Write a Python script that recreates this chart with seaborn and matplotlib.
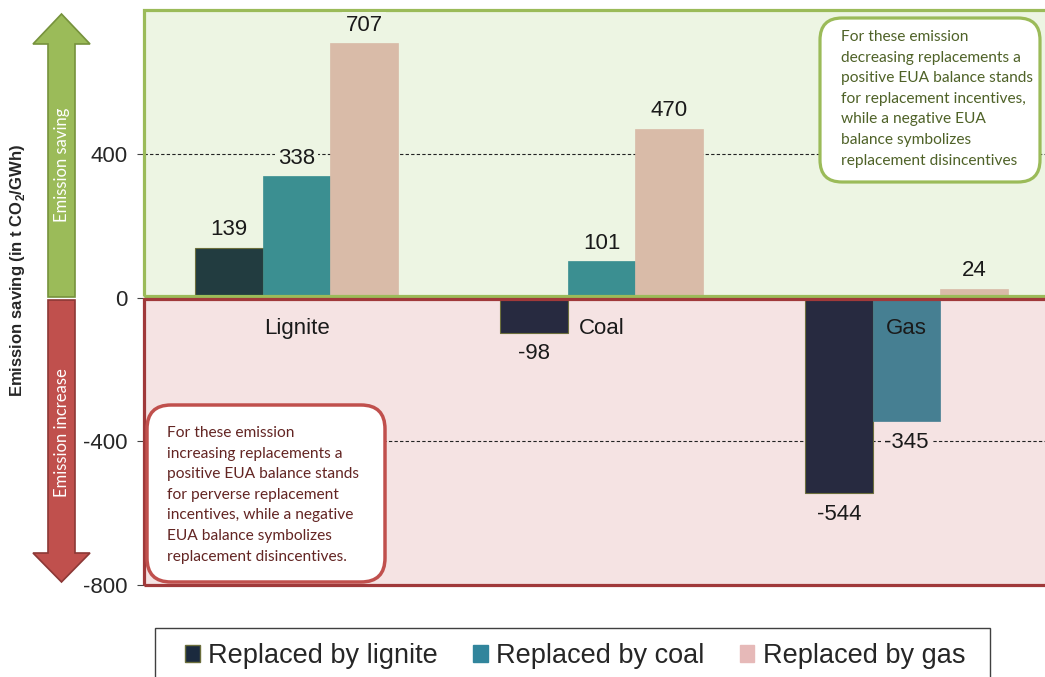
import numpy as np
import pandas as pd
import matplotlib
matplotlib.use("Agg")
import matplotlib.pyplot as plt
import seaborn as sns
from matplotlib.patches import Rectangle, FancyBboxPatch, Polygon, Patch
from matplotlib.transforms import IdentityTransform


# ----------------------------
# Data
# ----------------------------
fuels = ["Lignite", "Coal", "Gas"]
series = ["Replaced by lignite", "Replaced by coal", "Replaced by gas"]
replaced_by_lignite = [139, -98, -544]
replaced_by_coal = [338, 101, -345]
replaced_by_gas = [707, 470, 24]
y_ticks = [-800, -400, 0, 400]

note_saving = ("For these emission\ndecreasing replacements a\npositive EUA balance stands\n"
               "for replacement incentives,\nwhile a negative EUA\nbalance symbolizes\n"
               "replacement disincentives")
note_increase = ("For these emission\nincreasing replacements a\npositive EUA balance stands\n"
                 "for perverse replacement\nincentives, while a negative\nEUA balance symbolizes\n"
                 "replacement disincentives.")

# colours: legend swatch, bar on green (saving) area, bar on pink (increase) area
legend_colors = ["#1b2a3e", "#31859c", "#e6b9b8"]
pos_colors = ["#223c40", "#3b8f91", "#d9bba8"]
neg_colors = ["#272a40", "#467f92", "#d9bba8"]
green_bg, pink_bg = "#edf5e3", "#f5e3e3"

W, H = 1045, 677

sns.set_style("white")
plt.rcParams["font.family"] = ["Liberation Sans", "DejaVu Sans"]
plt.rcParams["mathtext.fontset"] = "custom"
plt.rcParams["mathtext.rm"] = "Liberation Sans"
plt.rcParams["mathtext.bf"] = "Liberation Sans:bold"

df = pd.DataFrame({
    "fuel": fuels * 3,
    "series": np.repeat(series, 3),
    "value": replaced_by_lignite + replaced_by_coal + replaced_by_gas,
})

fig = plt.figure(figsize=(W / 100, H / 100), dpi=100)
# the plot area runs past the right edge of the picture
ax = fig.add_axes([144 / W, 1 - 585 / H, 915 / W, 575 / H])

# ----------------------------
# Background areas
# ----------------------------
ax.axhspan(0, 800, color=green_bg, zorder=0, lw=0)
ax.axhspan(-800, 0, color=pink_bg, zorder=0, lw=0)
ax.add_patch(Rectangle((-0.5, 5), 4, 795, fill=False, edgecolor="#9bbb59",
                       lw=2.3, zorder=3.5, clip_on=False))
ax.add_patch(Rectangle((-0.5, -800), 4, 795, fill=False, edgecolor="#a0393a",
                       lw=2.3, zorder=3.5, clip_on=False))

for y in [400, -400]:
    ax.axhline(y, color="#222222", lw=0.8, ls=(0, (3, 2)), zorder=1)

# ----------------------------
# Bars
# ----------------------------
sns.barplot(data=df, x="fuel", y="value", hue="series", order=fuels, hue_order=series,
            palette=legend_colors, width=0.664, gap=0, saturation=1, legend=False,
            ax=ax, zorder=3)

for i, cont in enumerate(ax.containers):
    for bar in cont:
        v = bar.get_height()
        fc = pos_colors[i] if v > 0 else neg_colors[i]
        bar.set_facecolor(fc)
        if i == 0:
            bar.set_edgecolor("#6b6e3c")
            bar.set_linewidth(0.8)
        else:
            bar.set_edgecolor(fc)
            bar.set_linewidth(0.5)
        ax.annotate(f"{int(round(v))}", xy=(bar.get_x() + bar.get_width() / 2, v),
                    xytext=(0, 18 if v > 0 else -21), textcoords="offset pixels",
                    ha="center", va="center", fontsize=16, color="#1a1a1a", zorder=5,
                    bbox=dict(boxstyle="square,pad=0.15", lw=0,
                              facecolor=green_bg if v > 0 else pink_bg))

for i, fuel in enumerate(fuels):
    ax.text(i, -86, fuel, ha="center", va="center", fontsize=16, color="#1a1a1a", zorder=5)

ax.set_xlim(-0.5, 2.5)
ax.set_ylim(-800, 800)
ax.set_xticks([])
ax.set_yticks(y_ticks)
ax.set_yticklabels([str(t) for t in y_ticks])
ax.tick_params(axis="y", length=5, width=0.8, color="#444444", pad=7, labelsize=16,
               left=True)
ax.set_xlabel("")
ax.set_ylabel("")
for s in ax.spines.values():
    s.set_visible(False)

# ----------------------------
# Side arrows and axis title
# ----------------------------
tr = IdentityTransform()
green_arrow = [(48, 297), (48, 44), (33, 44), (61.5, 14), (90, 44), (75, 44), (75, 297)]
red_arrow = [(48, 300), (48, 553), (33, 553), (61.5, 582), (90, 553), (75, 553), (75, 300)]
fig.add_artist(Polygon([(x, H - y) for x, y in green_arrow], closed=True, transform=tr,
                       facecolor="#9bbb59", edgecolor="#76923c", lw=1.2))
fig.add_artist(Polygon([(x, H - y) for x, y in red_arrow], closed=True, transform=tr,
                       facecolor="#c0504d", edgecolor="#8c3836", lw=1.2))
fig.text(62, H - 165, "Emission saving", transform=tr, rotation=90, ha="center",
         va="center", color="white", fontsize=12, family=["Lato", "DejaVu Sans"])
fig.text(62, H - 433, "Emission increase", transform=tr, rotation=90, ha="center",
         va="center", color="white", fontsize=12, family=["Lato", "DejaVu Sans"])
fig.text(18, H - 270, r"Emission saving (in t CO$_\mathbf{2}$/GWh)", transform=tr,
         rotation=90, ha="center", va="center", fontsize=12, fontweight="bold")

# ----------------------------
# Note boxes
# ----------------------------
fig.add_artist(FancyBboxPatch((820, H - 182), 220, 164,
                              boxstyle="round,pad=0,rounding_size=22", transform=tr,
                              facecolor="white", edgecolor="#9bbb59", lw=2.3))
fig.text(841, H - 30, note_saving, transform=tr, ha="left", va="top", fontsize=11.2,
         color="#4f6228", linespacing=1.6, family=["Lato", "DejaVu Sans"])
fig.add_artist(FancyBboxPatch((147, H - 582), 238, 177,
                              boxstyle="round,pad=0,rounding_size=24", transform=tr,
                              facecolor="white", edgecolor="#c0504d", lw=2.5))
fig.text(167, H - 426, note_increase, transform=tr, ha="left", va="top", fontsize=11.2,
         color="#632523", linespacing=1.6, family=["Lato", "DejaVu Sans"])

# ----------------------------
# Legend
# ----------------------------
fig.add_artist(Rectangle((155, H - 700), 835, 72, transform=tr, fill=False,
                         edgecolor="#404040", lw=1))
handles = [Patch(facecolor=c, edgecolor="#6b6e3c" if i == 0 else c)
           for i, c in enumerate(legend_colors)]
fig.legend(handles, series, loc="center", bbox_to_anchor=(575 / W, 1 - 656 / H), ncol=3,
           frameon=False, prop={"family": ["Liberation Sans"], "size": 19.5},
           handlelength=0.55, handleheight=0.55, handletextpad=0.3, columnspacing=1.3)

fig.savefig("out.png", dpi=100)
